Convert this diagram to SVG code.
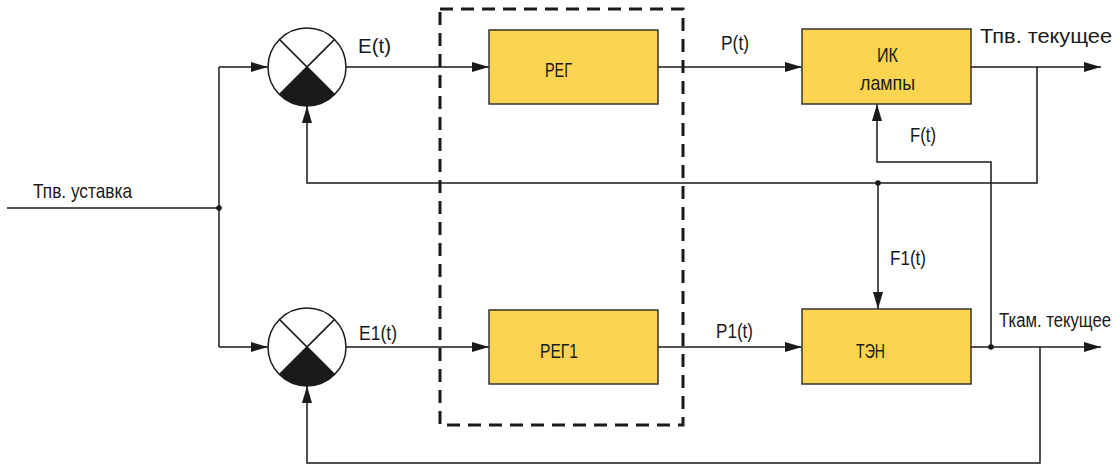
<svg xmlns="http://www.w3.org/2000/svg" width="1119" height="465" viewBox="0 0 1119 465">
<defs>
<marker id="arr" markerUnits="userSpaceOnUse" markerWidth="18" markerHeight="12" refX="17" refY="6" orient="auto">
<path d="M0,1 L17,6 L0,11 Z" fill="#1a1a1a"/>
</marker>
<style>
.ln{fill:none;stroke:#1a1a1a;stroke-width:1.5}
.box{fill:#FDD44F;stroke:#333;stroke-width:1.5}
.t{font-family:"Liberation Sans",Arial,sans-serif;font-size:21px;fill:#1a1a1a}
.dot{fill:#1a1a1a}
</style>
</defs>
<rect x="440" y="9" width="243" height="416" fill="none" stroke="#1a1a1a" stroke-width="3" stroke-dasharray="13 8"/>
<g id="connectors">
<path class="ln" d="M7,208 H219"/>
<path class="ln" d="M219,67 V347"/>
<path class="ln" d="M219,67 H268" marker-end="url(#arr)"/>
<path class="ln" d="M219,347 H268" marker-end="url(#arr)"/>
<path class="ln" d="M346,67 H489" marker-end="url(#arr)"/>
<path class="ln" d="M346,347 H489" marker-end="url(#arr)"/>
<path class="ln" d="M658,67 H802" marker-end="url(#arr)"/>
<path class="ln" d="M658,347 H802" marker-end="url(#arr)"/>
<path class="ln" d="M971,67 H1101" marker-end="url(#arr)"/>
<path class="ln" d="M971,347 H1101" marker-end="url(#arr)"/>
<path class="ln" d="M1037,67 V183 H307 V106" marker-end="url(#arr)"/>
<path class="ln" d="M1040,347 V463 H307 V386" marker-end="url(#arr)"/>
<path class="ln" d="M878,183 V309" marker-end="url(#arr)"/>
<path class="ln" d="M991,347 V162 H877 V104" marker-end="url(#arr)"/>
<circle class="dot" cx="219" cy="208" r="2.8"/>
<circle class="dot" cx="878" cy="183" r="2.8"/>
<circle class="dot" cx="991" cy="347" r="2.8"/>
</g>
<g id="sum1">
<circle cx="307" cy="67" r="39" fill="#fff" stroke="#1a1a1a" stroke-width="1.5"/>
<path d="M307,67 L334.6,94.6 A39,39 0 0 1 279.4,94.6 Z" fill="#1a1a1a"/>
<path class="ln" d="M279.4,39.4 L334.6,94.6 M334.6,39.4 L279.4,94.6"/>
</g>
<g id="sum2">
<circle cx="307" cy="347" r="39" fill="#fff" stroke="#1a1a1a" stroke-width="1.5"/>
<path d="M307,347 L334.6,374.6 A39,39 0 0 1 279.4,374.6 Z" fill="#1a1a1a"/>
<path class="ln" d="M279.4,319.4 L334.6,374.6 M334.6,319.4 L279.4,374.6"/>
</g>
<g id="reg">
<rect class="box" x="489" y="30" width="169" height="74"/>
<text class="t" x="545" y="77" textLength="27" lengthAdjust="spacingAndGlyphs">РЕГ</text>
</g>
<g id="reg1">
<rect class="box" x="489" y="310" width="169" height="74"/>
<text class="t" x="540" y="358" textLength="38" lengthAdjust="spacingAndGlyphs">РЕГ1</text>
</g>
<g id="ik">
<rect class="box" x="802" y="29" width="169" height="75"/>
<text class="t" x="877" y="62" textLength="21" lengthAdjust="spacingAndGlyphs">ИК</text>
<text class="t" x="860" y="90" textLength="55" lengthAdjust="spacingAndGlyphs">лампы</text>
</g>
<g id="ten">
<rect class="box" x="802" y="309" width="169" height="75"/>
<text class="t" x="856" y="358" textLength="29" lengthAdjust="spacingAndGlyphs">ТЭН</text>
</g>
<g id="labels">
<text class="t" x="33" y="198" textLength="99" lengthAdjust="spacingAndGlyphs">Тпв. уставка</text>
<text class="t" x="358" y="53" textLength="33" lengthAdjust="spacingAndGlyphs">E(t)</text>
<text class="t" x="359" y="340" textLength="38" lengthAdjust="spacingAndGlyphs">E1(t)</text>
<text class="t" x="721" y="50" textLength="28" lengthAdjust="spacingAndGlyphs">P(t)</text>
<text class="t" x="716" y="338" textLength="37" lengthAdjust="spacingAndGlyphs">P1(t)</text>
<text class="t" x="980" y="43" textLength="132" lengthAdjust="spacingAndGlyphs">Тпв. текущее</text>
<text class="t" transform="translate(999,327) scale(0.8,1)" x="0" y="0" textLength="140" lengthAdjust="spacingAndGlyphs">Ткам. текущее</text>
<text class="t" x="910" y="142" textLength="26" lengthAdjust="spacingAndGlyphs">F(t)</text>
<text class="t" x="890" y="265" textLength="36" lengthAdjust="spacingAndGlyphs">F1(t)</text>
</g>
</svg>
